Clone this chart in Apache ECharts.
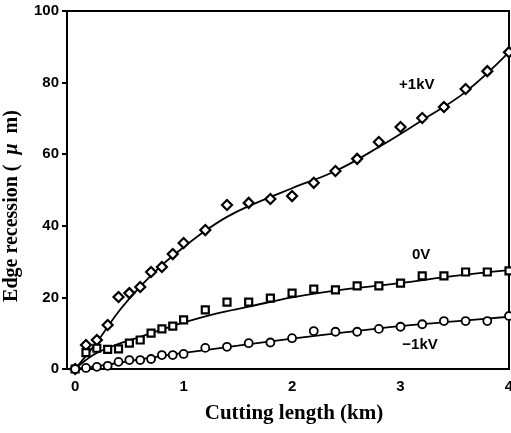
<!DOCTYPE html>
<html><head><meta charset="utf-8">
<script src="https://cdn.jsdelivr.net/npm/echarts@6/dist/echarts.min.js"></script>
<style>html,body{margin:0;padding:0;background:#fff}#c{width:511px;height:433px}</style>
</head><body><div id="c"></div>
<script>
// Measured points
const xPts = [0,0.1,0.2,0.3,0.4,0.5,0.6,0.7,0.8,0.9,1.0,1.2,1.4,1.6,1.8,2.0,2.2,2.4,2.6,2.8,3.0,3.2,3.4,3.6,3.8,4.0];
const plus1kV = [0,6.7,8.1,12.3,20.1,21.2,22.9,27.1,28.5,32.1,35.2,38.8,45.8,46.4,47.5,48.3,52.0,55.3,58.7,63.4,67.6,70.1,73.2,78.2,83.2,88.5];
const zeroV   = [0,4.6,5.8,5.5,5.6,7.2,8.1,10.0,11.2,12.0,13.7,16.5,18.7,18.7,19.8,21.2,22.3,22.1,23.2,23.2,24.0,26.0,26.0,27.1,27.1,27.4];
const minus1kV= [0,0.3,0.6,0.9,2.0,2.5,2.5,2.8,3.9,3.9,4.2,5.9,6.2,7.2,7.4,8.6,10.6,10.4,10.4,11.2,11.8,12.5,13.4,13.4,13.4,14.8];
// Fitted curves
const fitPlusX  = [0,0.2,0.4,0.6,0.8,1.0,1.2,1.4,1.6,2.0,2.4,2.8,3.2,3.6,4.0];
const fitPlusY  = [0,7.5,16,23,29,34,38.6,42.5,45.5,50.5,55.3,62,69.5,77.4,88.5];
const fitZeroX  = [0,0.1,0.2,0.4,0.6,0.8,1.0,1.3,1.6,2.0,2.5,3.0,3.5,4.0];
const fitZeroY  = [0,2.5,4.5,7,9,11,13,15.5,17.4,20,22.3,24,26,27.6];
const fitMinusX = [0,0.25,0.5,0.75,1.0,1.5,2.0,2.5,3.0,3.5,4.0];
const fitMinusY = [0,1.0,2.2,3.4,4.5,6.5,8.5,10.3,12,13.3,14.6];
const xTicks = [0,1,2,3,4];
const seriesLabels = ['+1kV','0V','\u22121kV'];
const labelPos = [[3.15,79.3],[3.19,31.8],[3.18,6.7]];

const zip = (xs, ys) => xs.map((x,i)=>[x, ys[i]]);
const lineStyle = {color:'#000', width:1.8};
function fit(xs, ys){
  return {type:'line', data:zip(xs,ys), smooth:0.4, showSymbol:false, lineStyle, silent:true, z:2};
}
function pts(ys, symbol, size, bw, idx){
  return {type:'scatter', data:zip(xPts,ys), symbol, symbolSize:size,
    itemStyle:{color:'#fff', borderColor:'#000', borderWidth:bw, opacity:1}, z:3,
    markPoint:{symbol:'circle', symbolSize:0, data:[{coord:labelPos[idx], value:seriesLabels[idx]}],
      label:{show:true, position:'inside', formatter:seriesLabels[idx], color:'#000',
        fontFamily:'Liberation Sans', fontWeight:'bold', fontSize:15}}};
}
const chart = echarts.init(document.getElementById('c'), null, {renderer:'canvas'});
chart.setOption({
  animation:false,
  grid:{left:67, right:2, top:11, bottom:64, show:true, borderColor:'#000', borderWidth:2,
    containLabel:false, outerBoundsMode:'none'},
  xAxis:{type:'value', min:-0.075, max:4,
    name:'Cutting length (km)', nameLocation:'middle', nameGap:34,
    nameTextStyle:{fontFamily:'Liberation Serif', fontWeight:'bold', fontSize:21, color:'#000', padding:[0,0,0,12]},
    axisLine:{show:true, onZero:false, lineStyle:{color:'#000', width:2}},
    axisTick:{show:false},
    splitLine:{show:false},
    axisLabel:{customValues:xTicks, color:'#000', fontFamily:'Liberation Sans', fontWeight:'bold', fontSize:15, margin:10}},
  yAxis:{type:'value', min:0, max:100, interval:20,
    name:'Edge recession (  {i|\u03bc}  m)', nameLocation:'middle', nameGap:45,
    nameTextStyle:{fontFamily:'Liberation Serif', fontWeight:'bold', fontSize:20, color:'#000', padding:[0,32,0,0],
      rich:{i:{fontFamily:'Liberation Serif', fontStyle:'italic', fontWeight:'bold', fontSize:20, color:'#000'}}},
    axisLine:{show:true, onZero:false, lineStyle:{color:'#000', width:2}},
    axisTick:{show:true, inside:false, length:5, lineStyle:{color:'#000', width:2}},
    splitLine:{show:false},
    axisLabel:{color:'#000', fontFamily:'Liberation Sans', fontWeight:'bold', fontSize:15, margin:8}},
  series:[
    fit(fitPlusX, fitPlusY), fit(fitZeroX, fitZeroY), fit(fitMinusX, fitMinusY),
    pts(plus1kV, 'diamond', [10,10], 2.2, 0),
    pts(zeroV, 'rect', [7,7], 2.2, 1),
    pts(minus1kV, 'circle', [8,8], 1.8, 2)
  ]
});
</script></body></html>
